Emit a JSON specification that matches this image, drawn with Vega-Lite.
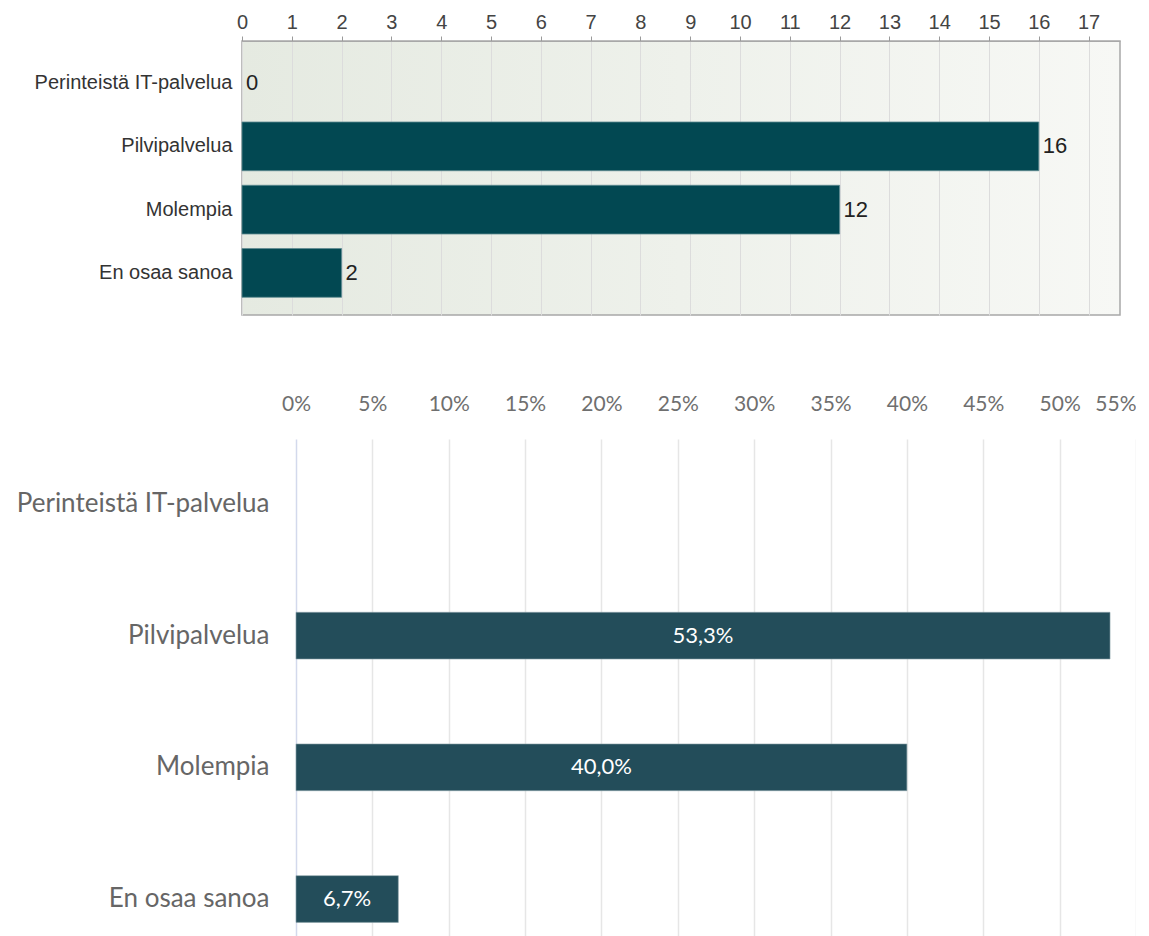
{
  "$schema": "https://vega.github.io/schema/vega-lite/v6.json",
  "padding": {"left": 0, "top": 11, "right": 0, "bottom": 0},
  "background": "white",
  "spacing": 77,
  "config": {
    "locale": {"number": {"decimal": ",", "thousands": " ", "grouping": [3], "currency": ["", " €"], "percent": "%"}}
  },
  "datasets": {
    "responses": [
      {"vastaus": "Perinteistä IT-palvelua", "lkm": 0, "osuus": 0.0},
      {"vastaus": "Pilvipalvelua", "lkm": 16, "osuus": 0.533},
      {"vastaus": "Molempia", "lkm": 12, "osuus": 0.4},
      {"vastaus": "En osaa sanoa", "lkm": 2, "osuus": 0.067}
    ]
  },
  "vconcat": [
    {
      "width": 878,
      "height": 274,
      "data": {"name": "responses"},
      "view": {
        "fill": {"gradient": "linear", "x1": 0, "y1": 0, "x2": 1, "y2": 0, "stops": [{"offset": 0, "color": "#e5eae1"}, {"offset": 1, "color": "#f7f8f5"}]},
        "stroke": "#a8a8a8",
        "strokeWidth": 1.5
      },
      "encoding": {
        "y": {
          "field": "vastaus", "type": "nominal", "sort": null,
          "scale": {"domain": ["Perinteistä IT-palvelua", "Pilvipalvelua", "Molempia", "En osaa sanoa"], "paddingInner": 0.23, "paddingOuter": 0.28},
          "axis": {"orient": "left", "ticks": false, "domain": false, "grid": false, "title": null,
                   "labelFont": "Liberation Sans", "labelFontSize": 20, "labelColor": "#333333",
                   "labelPadding": 10, "labelLimit": 400, "minExtent": 241, "maxExtent": 241}
        }
      },
      "layer": [
        {
          "transform": [{"filter": "datum.lkm > 0"}],
          "mark": {"type": "bar", "color": "#024852", "stroke": "#5e8a90", "strokeWidth": 0.8},
          "encoding": {
            "x": {
              "field": "lkm", "type": "quantitative",
              "scale": {"domain": [0, 17.63], "nice": false, "zero": true},
              "axis": {"orient": "top", "values": [0,1,2,3,4,5,6,7,8,9,10,11,12,13,14,15,16,17], "format": "d",
                       "tickSize": 5, "tickColor": "#9a9a9a", "domainColor": "#a8a8a8", "grid": true, "gridColor": "#dcdcdc",
                       "labelFont": "Liberation Sans", "labelFontSize": 20, "labelColor": "#444444", "labelPadding": 4,
                       "labelFlush": false, "title": null}
            }
          }
        },
        {
          "mark": {"type": "text", "align": "left", "baseline": "middle", "dx": 4, "font": "Liberation Sans", "fontSize": 22, "color": "#222222"},
          "encoding": {
            "x": {"field": "lkm", "type": "quantitative"},
            "text": {"field": "lkm", "type": "quantitative", "format": "d"}
          }
        }
      ]
    },
    {
      "width": 894,
      "height": 525,
      "data": {"name": "responses"},
      "view": {"stroke": null},
      "encoding": {
        "y": {
          "field": "vastaus", "type": "nominal", "sort": null,
          "scale": {"domain": ["Perinteistä IT-palvelua", "Pilvipalvelua", "Molempia", "En osaa sanoa"], "paddingInner": 0.645, "paddingOuter": 0.316},
          "axis": {"orient": "left", "ticks": false, "domain": false, "grid": false, "title": null,
                   "labelFont": "Lato", "labelFontSize": 26, "labelColor": "#666666",
                   "labelPadding": 0, "offset": -27, "labelLimit": 400}
        }
      },
      "resolve": {"scale": {"x": "independent"}},
      "layer": [
        {
          "transform": [{"filter": "datum.osuus > 0"}],
          "mark": {"type": "bar", "color": "#234d5a", "stroke": "#8fa4ab", "strokeWidth": 0.6},
          "encoding": {
            "x": {
              "field": "osuus", "type": "quantitative",
              "scale": {"domain": [0, 0.55], "range": [54, 894], "nice": false, "zero": true},
              "axis": {"orient": "top", "values": [0,0.05,0.1,0.15,0.2,0.25,0.3,0.35,0.4,0.45,0.5,0.55], "format": ".0%",
                       "ticks": false, "domain": false, "grid": true,
                       "gridColor": {"condition": {"test": "datum.value === 0", "value": "#d3d9ec"}, "value": "#e6e6e6"},
                       "gridWidth": 1.5,
                       "labelFont": "Lato", "labelFontSize": 21, "labelColor": "#6f6f6f", "labelPadding": 25,
                       "labelAlign": {"condition": {"test": "datum.value > 0.54", "value": "right"}, "value": "center"},
                       "labelFlush": false, "title": null}
            }
          }
        },
        {
          "transform": [{"filter": "datum.osuus > 0"}],
          "mark": {"type": "text", "align": "center", "baseline": "middle", "font": "Lato", "fontSize": 22, "color": "#ffffff"},
          "encoding": {
            "x": {"field": "osuus", "type": "quantitative", "scale": {"domain": [0, 1.1], "range": [54, 894], "nice": false, "zero": true}, "axis": null},
            "text": {"field": "osuus", "type": "quantitative", "format": ".1%"}
          }
        }
      ]
    }
  ]
}
